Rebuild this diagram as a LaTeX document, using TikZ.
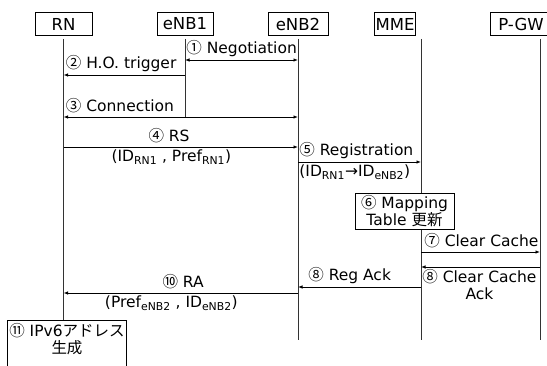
\documentclass[tikz,border=0pt]{standalone}
\usepackage{fontspec}
\setmainfont{DejaVu Sans}
\newfontfamily\jp{Noto Sans CJK JP}
\usetikzlibrary{arrows.meta}

\begin{document}
\begin{tikzpicture}[x=1pt, y=-1pt,
        >={Latex[length=4.5pt,width=3.5pt]}, font=\fontsize{15.5}{17}\selectfont,
        ent/.style={draw, thick, minimum height=23pt, inner sep=1pt, font=\fontsize{16.5}{18}\selectfont},
        life/.style={semithick, black!80, shorten <=3pt},
        msg/.style={->, thick},
        both/.style={<->, thick},
        note/.style={draw, semithick, fill=white, align=center, inner sep=2pt}]
        \useasboundingbox (0,0) rectangle (547,365);
        \node[ent, minimum width=57pt] (rn) at (63.5,24) {RN};
        \node[ent, minimum width=56pt] (enba) at (185,24) {eNB1};
        \node[ent, minimum width=60pt] (enbb) at (298,24) {eNB2};
        \node[ent, minimum width=34pt] (mme) at (395,24) {MME};
        \node[ent, minimum width=62pt] (pgw) at (521,24) {P-GW};
        \coordinate (mmeL) at ([xshift=26pt]mme.south);
        \coordinate (pgwL) at ([xshift=19pt]pgw.south);
        \draw[life] (rn.south) -- (rn |- 0,320);
        \draw[life] (enba.south) -- (enba |- 0,117);
        \draw[life] (enbb.south) -- (enbb |- 0,340);
        \draw[life] (mmeL) -- (mmeL |- 0,340);
        \draw[life] (pgwL) -- (pgwL |- 0,340);
        \draw[both] (enba |- 0,60) -- node[pos=0, above right, inner xsep=1pt]{{\jp①} Negotiation} (enbb |- 0,60);
        \draw[msg] (enba |- 0,75) -- node[pos=1, above right, inner xsep=2pt]{{\jp②} H.O. trigger} (rn |- 0,75);
        \draw[both] (rn |- 0,117) -- node[pos=0, above right, inner xsep=2pt]{{\jp③} Connection} (enbb |- 0,117);
        \draw[msg] (rn |- 0,147) -- node[pos=0.45, above]{{\jp④} RS}
            node[pos=0.46, below, inner ysep=2pt]{(ID\textsubscript{RN1} , Pref\textsubscript{RN1})} (enbb |- 0,147);
        \draw[msg] (enbb |- 0,162) -- node[pos=0, above right, inner xsep=1pt]{{\jp⑤} Registration}
            node[pos=0, below right, inner xsep=1pt, inner ysep=2pt]{(ID\textsubscript{RN1}→ID\textsubscript{eNB2})} (mmeL |- 0,162);
        \node[note, minimum width=99pt, minimum height=35pt] (map) at (404.5,211.5) {{\jp⑥} Mapping\\Table {\jp 更新}};
        \draw[msg] (mmeL |- 0,252) -- node[pos=0, above right, inner xsep=3pt]{{\jp⑦} Clear Cache} (pgwL |- 0,252);
        \draw[msg] (pgwL |- 0,267) -- node[pos=1, below right, align=center, inner xsep=1pt, inner ysep=2pt]{{\jp⑧} Clear Cache\\Ack} (mmeL |- 0,267);
        \draw[msg] (mmeL |- 0,287) -- node[pos=0.58, above]{{\jp⑧} Reg Ack} (enbb |- 0,287);
        \draw[msg] (enbb |- 0,293) -- node[pos=0.49, above]{{\jp⑩} RA}
            node[pos=0.54, below, inner ysep=2pt]{(Pref\textsubscript{eNB2} , ID\textsubscript{eNB2})} (rn |- 0,293);
        \node[note, anchor=north, minimum width=118pt, inner ysep=3pt, text depth=20pt] (addr) at (67,320) {{\jp⑪} IPv6{\jp アドレス}\\{\jp 生成}};
    \end{tikzpicture}
\end{document}
